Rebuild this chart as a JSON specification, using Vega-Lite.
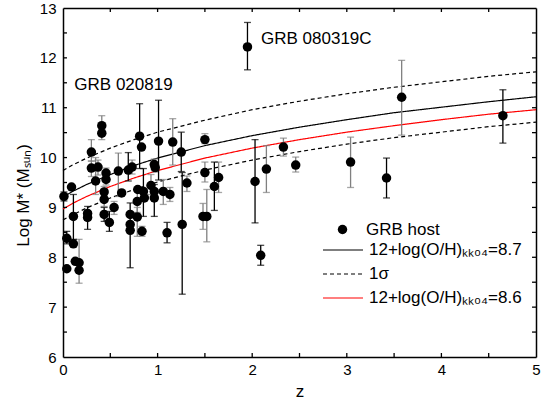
{
  "$schema": "https://vega.github.io/schema/vega-lite/v6.json",
  "width": 473,
  "height": 349,
  "autosize": {"type": "none"},
  "padding": {"left": 63, "top": 8, "right": 16, "bottom": 53},
  "background": "white",
  "config": {
    "view": {"stroke": null},
    "font": "Liberation Sans",
    "axis": {"grid": false, "domainColor": "black", "domainWidth": 1.5, "ticks": false, "labelColor": "black", "titleColor": "black", "labelFont": "Liberation Sans", "titleFont": "Liberation Sans", "titleFontWeight": "normal", "labelFlush": false, "labelOverlap": false}
  },
  "datasets": {
    "pts": [
      {"z":0.01,"M":9.22,"lo":9.13,"hi":9.31,"g":"b"},
      {"z":0.09,"M":9.41,"lo":null,"hi":null,"g":"n"},
      {"z":0.11,"M":8.82,"lo":8.36,"hi":9.26,"g":"b"},
      {"z":0.04,"M":8.38,"lo":8.27,"hi":8.52,"g":"b"},
      {"z":0.11,"M":8.27,"lo":null,"hi":null,"g":"n"},
      {"z":0.13,"M":7.92,"lo":null,"hi":null,"g":"n"},
      {"z":0.17,"M":7.89,"lo":7.48,"hi":8.36,"g":"g"},
      {"z":0.04,"M":7.77,"lo":null,"hi":null,"g":"n"},
      {"z":0.17,"M":7.74,"lo":null,"hi":null,"g":"n"},
      {"z":0.26,"M":8.88,"lo":8.74,"hi":9.02,"g":"b"},
      {"z":0.26,"M":8.80,"lo":8.56,"hi":8.92,"g":"b"},
      {"z":0.30,"M":10.11,"lo":9.93,"hi":10.36,"g":"g"},
      {"z":0.30,"M":9.79,"lo":9.62,"hi":9.93,"g":"g"},
      {"z":0.37,"M":9.81,"lo":9.65,"hi":9.95,"g":"g"},
      {"z":0.345,"M":9.53,"lo":9.26,"hi":10.0,"g":"g"},
      {"z":0.41,"M":10.64,"lo":10.56,"hi":10.84,"g":"g"},
      {"z":0.41,"M":10.49,"lo":10.36,"hi":10.56,"g":"g"},
      {"z":0.455,"M":9.69,"lo":9.58,"hi":9.79,"g":"g"},
      {"z":0.455,"M":9.56,"lo":9.45,"hi":9.65,"g":"g"},
      {"z":0.435,"M":9.31,"lo":9.20,"hi":9.42,"g":"g"},
      {"z":0.435,"M":9.16,"lo":9.02,"hi":9.25,"g":"g"},
      {"z":0.54,"M":9.00,"lo":8.86,"hi":9.12,"g":"g"},
      {"z":0.435,"M":8.86,"lo":8.72,"hi":9.0,"g":"b"},
      {"z":0.49,"M":8.70,"lo":8.52,"hi":8.92,"g":"b"},
      {"z":0.585,"M":9.73,"lo":9.22,"hi":10.09,"g":"g"},
      {"z":0.62,"M":9.29,"lo":null,"hi":null,"g":"n"},
      {"z":0.69,"M":9.75,"lo":9.53,"hi":10.10,"g":"b"},
      {"z":0.73,"M":9.81,"lo":9.67,"hi":9.95,"g":"g"},
      {"z":0.71,"M":8.86,"lo":null,"hi":null,"g":"n"},
      {"z":0.71,"M":8.66,"lo":null,"hi":null,"g":"n"},
      {"z":0.71,"M":8.54,"lo":7.79,"hi":9.09,"g":"b"},
      {"z":0.785,"M":9.12,"lo":8.90,"hi":9.36,"g":"g"},
      {"z":0.785,"M":8.81,"lo":8.42,"hi":9.0,"g":"g"},
      {"z":0.79,"M":9.36,"lo":null,"hi":null,"g":"n"},
      {"z":0.81,"M":10.43,"lo":9.78,"hi":11.08,"g":"b"},
      {"z":0.83,"M":10.21,"lo":null,"hi":null,"g":"n"},
      {"z":0.85,"M":9.32,"lo":8.82,"hi":9.78,"g":"b"},
      {"z":0.86,"M":9.19,"lo":null,"hi":null,"g":"n"},
      {"z":0.835,"M":8.52,"lo":8.42,"hi":8.62,"g":"g"},
      {"z":0.93,"M":9.44,"lo":9.26,"hi":9.66,"g":"g"},
      {"z":0.965,"M":9.86,"lo":9.75,"hi":9.97,"g":"g"},
      {"z":0.975,"M":9.80,"lo":9.71,"hi":9.90,"g":"g"},
      {"z":0.965,"M":9.32,"lo":9.19,"hi":9.46,"g":"b"},
      {"z":0.965,"M":9.19,"lo":8.82,"hi":9.30,"g":"b"},
      {"z":1.01,"M":10.33,"lo":9.55,"hi":11.15,"g":"b"},
      {"z":1.06,"M":9.32,"lo":9.06,"hi":9.56,"g":"g"},
      {"z":1.13,"M":9.26,"lo":9.12,"hi":9.40,"g":"g"},
      {"z":1.16,"M":10.31,"lo":9.85,"hi":10.78,"g":"g"},
      {"z":1.10,"M":8.49,"lo":8.29,"hi":8.70,"g":"b"},
      {"z":1.25,"M":10.11,"lo":9.72,"hi":10.51,"g":"b"},
      {"z":1.26,"M":8.66,"lo":7.26,"hi":9.70,"g":"b"},
      {"z":1.31,"M":9.49,"lo":9.32,"hi":9.63,"g":"g"},
      {"z":1.50,"M":10.36,"lo":10.28,"hi":10.48,"g":"g"},
      {"z":1.50,"M":9.70,"lo":9.51,"hi":9.91,"g":"g"},
      {"z":1.48,"M":8.82,"lo":8.56,"hi":9.08,"g":"g"},
      {"z":1.52,"M":8.82,"lo":8.31,"hi":9.36,"g":"g"},
      {"z":1.60,"M":9.42,"lo":8.94,"hi":9.91,"g":"b"},
      {"z":1.645,"M":9.60,"lo":9.30,"hi":9.91,"g":"g"},
      {"z":1.95,"M":12.22,"lo":11.76,"hi":12.71,"g":"b"},
      {"z":2.03,"M":9.52,"lo":8.69,"hi":10.36,"g":"b"},
      {"z":2.09,"M":8.04,"lo":7.84,"hi":8.24,"g":"b"},
      {"z":2.15,"M":9.77,"lo":9.30,"hi":10.24,"g":"g"},
      {"z":2.33,"M":10.21,"lo":10.03,"hi":10.39,"g":"g"},
      {"z":2.46,"M":9.85,"lo":9.71,"hi":10.01,"g":"g"},
      {"z":3.04,"M":9.91,"lo":9.40,"hi":10.41,"g":"g"},
      {"z":3.42,"M":9.59,"lo":9.19,"hi":9.99,"g":"b"},
      {"z":3.58,"M":11.21,"lo":10.45,"hi":11.95,"g":"g"},
      {"z":4.65,"M":10.84,"lo":10.29,"hi":11.36,"g":"b"}
    ],
    "curves": [
      {"z":0,"M":9.21,"c":"a","s":"12+log(O/H)ₖₖ₀₄=8.7"},
      {"z":0.1,"M":9.32,"c":"a","s":"12+log(O/H)ₖₖ₀₄=8.7"},
      {"z":0.25,"M":9.46,"c":"a","s":"12+log(O/H)ₖₖ₀₄=8.7"},
      {"z":0.5,"M":9.66,"c":"a","s":"12+log(O/H)ₖₖ₀₄=8.7"},
      {"z":0.75,"M":9.84,"c":"a","s":"12+log(O/H)ₖₖ₀₄=8.7"},
      {"z":1,"M":9.99,"c":"a","s":"12+log(O/H)ₖₖ₀₄=8.7"},
      {"z":1.5,"M":10.24,"c":"a","s":"12+log(O/H)ₖₖ₀₄=8.7"},
      {"z":2,"M":10.44,"c":"a","s":"12+log(O/H)ₖₖ₀₄=8.7"},
      {"z":2.5,"M":10.61,"c":"a","s":"12+log(O/H)ₖₖ₀₄=8.7"},
      {"z":3,"M":10.76,"c":"a","s":"12+log(O/H)ₖₖ₀₄=8.7"},
      {"z":3.5,"M":10.90,"c":"a","s":"12+log(O/H)ₖₖ₀₄=8.7"},
      {"z":4,"M":11.01,"c":"a","s":"12+log(O/H)ₖₖ₀₄=8.7"},
      {"z":4.5,"M":11.12,"c":"a","s":"12+log(O/H)ₖₖ₀₄=8.7"},
      {"z":5,"M":11.22,"c":"a","s":"12+log(O/H)ₖₖ₀₄=8.7"},
      {"z":0,"M":9.74,"c":"u","s":"1σ"},
      {"z":0.1,"M":9.85,"c":"u","s":"1σ"},
      {"z":0.25,"M":9.99,"c":"u","s":"1σ"},
      {"z":0.5,"M":10.19,"c":"u","s":"1σ"},
      {"z":0.75,"M":10.36,"c":"u","s":"1σ"},
      {"z":1,"M":10.51,"c":"u","s":"1σ"},
      {"z":1.5,"M":10.75,"c":"u","s":"1σ"},
      {"z":2,"M":10.96,"c":"u","s":"1σ"},
      {"z":2.5,"M":11.13,"c":"u","s":"1σ"},
      {"z":3,"M":11.28,"c":"u","s":"1σ"},
      {"z":3.5,"M":11.41,"c":"u","s":"1σ"},
      {"z":4,"M":11.52,"c":"u","s":"1σ"},
      {"z":4.5,"M":11.63,"c":"u","s":"1σ"},
      {"z":5,"M":11.72,"c":"u","s":"1σ"},
      {"z":0,"M":8.75,"c":"l","s":"1σ"},
      {"z":0.1,"M":8.85,"c":"l","s":"1σ"},
      {"z":0.25,"M":8.99,"c":"l","s":"1σ"},
      {"z":0.5,"M":9.19,"c":"l","s":"1σ"},
      {"z":0.75,"M":9.36,"c":"l","s":"1σ"},
      {"z":1,"M":9.51,"c":"l","s":"1σ"},
      {"z":1.5,"M":9.75,"c":"l","s":"1σ"},
      {"z":2,"M":9.95,"c":"l","s":"1σ"},
      {"z":2.5,"M":10.12,"c":"l","s":"1σ"},
      {"z":3,"M":10.27,"c":"l","s":"1σ"},
      {"z":3.5,"M":10.40,"c":"l","s":"1σ"},
      {"z":4,"M":10.51,"c":"l","s":"1σ"},
      {"z":4.5,"M":10.62,"c":"l","s":"1σ"},
      {"z":5,"M":10.71,"c":"l","s":"1σ"},
      {"z":0,"M":8.97,"c":"r","s":"12+log(O/H)ₖₖ₀₄=8.6"},
      {"z":0.1,"M":9.08,"c":"r","s":"12+log(O/H)ₖₖ₀₄=8.6"},
      {"z":0.25,"M":9.22,"c":"r","s":"12+log(O/H)ₖₖ₀₄=8.6"},
      {"z":0.5,"M":9.42,"c":"r","s":"12+log(O/H)ₖₖ₀₄=8.6"},
      {"z":0.75,"M":9.59,"c":"r","s":"12+log(O/H)ₖₖ₀₄=8.6"},
      {"z":1,"M":9.74,"c":"r","s":"12+log(O/H)ₖₖ₀₄=8.6"},
      {"z":1.5,"M":9.99,"c":"r","s":"12+log(O/H)ₖₖ₀₄=8.6"},
      {"z":2,"M":10.19,"c":"r","s":"12+log(O/H)ₖₖ₀₄=8.6"},
      {"z":2.5,"M":10.36,"c":"r","s":"12+log(O/H)ₖₖ₀₄=8.6"},
      {"z":3,"M":10.51,"c":"r","s":"12+log(O/H)ₖₖ₀₄=8.6"},
      {"z":3.5,"M":10.64,"c":"r","s":"12+log(O/H)ₖₖ₀₄=8.6"},
      {"z":4,"M":10.76,"c":"r","s":"12+log(O/H)ₖₖ₀₄=8.6"},
      {"z":4.5,"M":10.87,"c":"r","s":"12+log(O/H)ₖₖ₀₄=8.6"},
      {"z":5,"M":10.96,"c":"r","s":"12+log(O/H)ₖₖ₀₄=8.6"}
    ],
    "notes": [
      {"z":2.093,"M":12.385,"t":"GRB 080319C"},
      {"z":0.12,"M":11.46,"t":"GRB 020819"}
    ],
    "xt": [
      {"v":0.5,"k":"minor"},{"v":1,"k":"major"},{"v":1.5,"k":"minor"},{"v":2,"k":"major"},{"v":2.5,"k":"minor"},
      {"v":3,"k":"major"},{"v":3.5,"k":"minor"},{"v":4,"k":"major"},{"v":4.5,"k":"minor"}
    ],
    "yt": [
      {"v":6.5,"k":"minor"},{"v":7,"k":"major"},{"v":7.5,"k":"minor"},{"v":8,"k":"major"},{"v":8.5,"k":"minor"},
      {"v":9,"k":"major"},{"v":9.5,"k":"minor"},{"v":10,"k":"major"},{"v":10.5,"k":"minor"},{"v":11,"k":"major"},
      {"v":11.5,"k":"minor"},{"v":12,"k":"major"},{"v":12.5,"k":"minor"}
    ]
  },
  "resolve": {"axis": {"x": "independent", "y": "independent"}},
  "layer": [
    {
      "data": {"name": "curves"},
      "mark": {"type": "line", "strokeWidth": 1.2},
      "encoding": {
        "x": {"field": "z", "type": "quantitative", "scale": {"domain": [0, 5], "nice": false, "zero": false},
          "axis": {"orient": "top", "values": [0,1,2,3,4,5], "labels": false, "title": null}},
        "y": {"field": "M", "type": "quantitative", "scale": {"domain": [6, 13], "nice": false, "zero": false},
          "axis": {"orient": "right", "values": [6,7,8,9,10,11,12,13], "labels": false, "title": null}},
        "detail": {"field": "c"},
        "color": {"field": "s", "type": "nominal",
          "scale": {"domain": ["12+log(O/H)ₖₖ₀₄=8.7", "1σ", "12+log(O/H)ₖₖ₀₄=8.6"], "range": ["#000000", "#000000", "#ff0000"]},
          "legend": {"orient": "none", "legendX": 259, "legendY": 232, "title": null, "symbolType": "stroke", "symbolSize": 1600, "clipHeight": 20, "rowPadding": 4, "labelOffset": 5, "labelFontSize": 17, "labelFont": "Liberation Sans", "labelColor": "black", "symbolStrokeWidth": 1.2, "padding": 0}},
        "strokeDash": {"field": "s", "type": "nominal",
          "scale": {"domain": ["12+log(O/H)ₖₖ₀₄=8.7", "1σ", "12+log(O/H)ₖₖ₀₄=8.6"], "range": [[1, 0], [4, 3], [1, 0]]},
          "legend": {"orient": "none", "legendX": 259, "legendY": 232, "title": null, "symbolType": "stroke", "symbolSize": 1600, "clipHeight": 20, "rowPadding": 4, "labelOffset": 5, "labelFontSize": 17, "labelFont": "Liberation Sans", "labelColor": "black", "symbolStrokeWidth": 1.2, "padding": 0}}
      }
    },
    {
      "data": {"name": "xt"},
      "mark": {"type": "rule", "strokeWidth": 1.3, "color": "black"},
      "encoding": {
        "x": {"field": "v", "type": "quantitative", "scale": {"domain": [0, 5], "nice": false, "zero": false}, "axis": null},
        "y": {"datum": 6, "type": "quantitative", "scale": {"domain": [6, 13], "nice": false, "zero": false}, "axis": null},
        "y2": {"condition": {"test": "datum.k === 'major'", "datum": 6.14}, "datum": 6.08}
      }
    },
    {
      "data": {"name": "xt"},
      "mark": {"type": "rule", "strokeWidth": 1.3, "color": "black"},
      "encoding": {
        "x": {"field": "v", "type": "quantitative", "scale": {"domain": [0, 5], "nice": false, "zero": false}, "axis": null},
        "y": {"datum": 13, "type": "quantitative", "scale": {"domain": [6, 13], "nice": false, "zero": false}, "axis": null},
        "y2": {"condition": {"test": "datum.k === 'major'", "datum": 12.86}, "datum": 12.92}
      }
    },
    {
      "data": {"name": "yt"},
      "mark": {"type": "rule", "strokeWidth": 1.3, "color": "black"},
      "encoding": {
        "y": {"field": "v", "type": "quantitative", "scale": {"domain": [6, 13], "nice": false, "zero": false}, "axis": null},
        "x": {"datum": 0, "type": "quantitative", "scale": {"domain": [0, 5], "nice": false, "zero": false}, "axis": null},
        "x2": {"condition": {"test": "datum.k === 'major'", "datum": 0.074}, "datum": 0.042}
      }
    },
    {
      "data": {"name": "yt"},
      "mark": {"type": "rule", "strokeWidth": 1.3, "color": "black"},
      "encoding": {
        "y": {"field": "v", "type": "quantitative", "scale": {"domain": [6, 13], "nice": false, "zero": false}, "axis": null},
        "x": {"datum": 5, "type": "quantitative", "scale": {"domain": [0, 5], "nice": false, "zero": false}, "axis": null},
        "x2": {"condition": {"test": "datum.k === 'major'", "datum": 4.926}, "datum": 4.958}
      }
    },
    {
      "data": {"name": "pts"},
      "transform": [{"filter": "datum.g === 'g'"}],
      "mark": {"type": "errorbar", "ticks": {"size": 7}, "color": "#808080", "thickness": 1.3},
      "encoding": {
        "x": {"field": "z", "type": "quantitative", "scale": {"domain": [0, 5], "nice": false, "zero": false}, "axis": null},
        "y": {"field": "lo", "type": "quantitative", "scale": {"domain": [6, 13], "nice": false, "zero": false}, "axis": null},
        "y2": {"field": "hi"}
      }
    },
    {
      "data": {"name": "pts"},
      "transform": [{"filter": "datum.g === 'b'"}],
      "mark": {"type": "errorbar", "ticks": {"size": 7}, "color": "#000000", "thickness": 1.3},
      "encoding": {
        "x": {"field": "z", "type": "quantitative", "scale": {"domain": [0, 5], "nice": false, "zero": false}, "axis": null},
        "y": {"field": "lo", "type": "quantitative", "scale": {"domain": [6, 13], "nice": false, "zero": false}, "axis": null},
        "y2": {"field": "hi"}
      }
    },
    {
      "data": {"name": "pts"},
      "mark": {"type": "point", "filled": true, "size": 90, "color": "black", "opacity": 1},
      "encoding": {
        "x": {"field": "z", "type": "quantitative", "scale": {"domain": [0, 5], "nice": false, "zero": false},
          "axis": {"orient": "bottom", "values": [0,1,2,3,4,5], "format": "d", "labelFontSize": 15, "labelPadding": 5, "title": "z", "titleFontSize": 17, "titlePadding": 6}},
        "y": {"field": "M", "type": "quantitative", "scale": {"domain": [6, 13], "nice": false, "zero": false},
          "axis": {"orient": "left", "values": [6,7,8,9,10,11,12,13], "format": "d", "labelFontSize": 15, "labelPadding": 7, "title": "Log M* (Mₛᵤₙ)", "titleFontSize": 17, "titlePadding": 7, "titleY": 187}},
        "shape": {"datum": "GRB host", "scale": {"range": ["circle"]},
          "legend": {"orient": "none", "legendX": 271, "legendY": 213, "title": null, "labelOffset": 15, "labelFontSize": 17, "labelFont": "Liberation Sans", "labelColor": "black", "symbolSize": 90, "symbolFillColor": "black", "symbolStrokeColor": "black", "padding": 0}}
      }
    },
    {
      "data": {"name": "notes"},
      "mark": {"type": "text", "align": "left", "baseline": "middle", "fontSize": 17, "font": "Liberation Sans", "color": "black"},
      "encoding": {
        "x": {"field": "z", "type": "quantitative", "scale": {"domain": [0, 5], "nice": false, "zero": false}, "axis": null},
        "y": {"field": "M", "type": "quantitative", "scale": {"domain": [6, 13], "nice": false, "zero": false}, "axis": null},
        "text": {"field": "t"}
      }
    }
  ]
}
